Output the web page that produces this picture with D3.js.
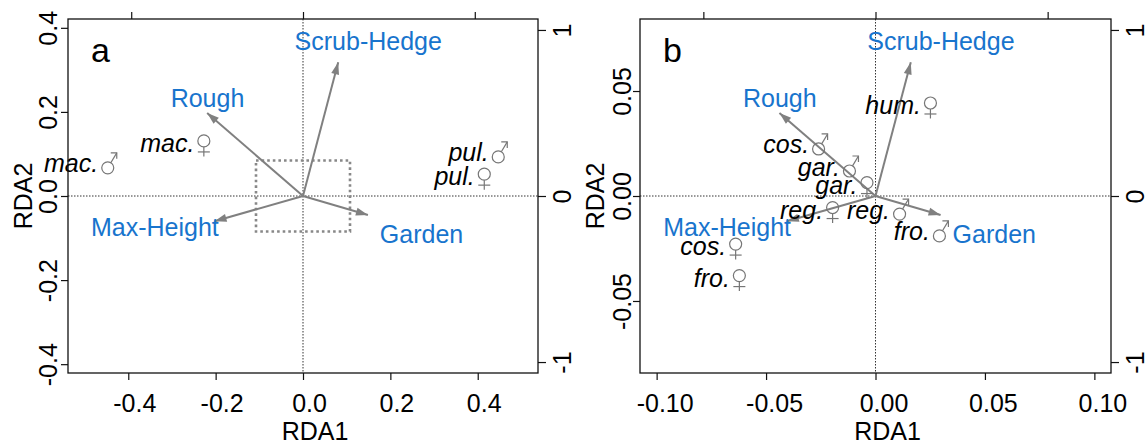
<!DOCTYPE html>
<html>
<head>
<meta charset="utf-8">
<script src="https://cdn.jsdelivr.net/npm/d3@7"></script>
<style>
  body { margin: 0; background: #fff; }
  svg text { font-family: "Liberation Sans", Arial, Helvetica, sans-serif; }
</style>
</head>
<body>
<svg id="chart" width="1146" height="443"></svg>
<script>
// Constraining variables: biplot arrow tips on the secondary (top/right) axes
const envNames = ["Scrub-Hedge", "Rough", "Max-Height", "Garden"];
const envRDA1 = [0.205, -0.558, -0.515, 0.378];
const envRDA2 = [0.805, 0.50, -0.152, -0.114];
// where each variable name sits, same units as the arrows
const envLabelRDA1 = [0.38, -0.556, -0.862, 0.69];
const envLabelRDA2 = [0.88, 0.536, -0.24, -0.283];

// Panel a: species scores
const taxaA = ["mac.", "mac.", "pul.", "pul."];
const sexA = ["m", "f", "m", "f"];
const rda1A = [-0.447, -0.227, 0.447, 0.415];
const rda2A = [0.067, 0.131, 0.093, 0.052];

// Panel b: species scores (enlarged centre of panel a)
const taxaB = ["hum.", "cos.", "gar.", "gar.", "reg.", "reg.", "fro.", "cos.", "fro."];
const sexB = ["f", "m", "m", "f", "f", "m", "m", "f", "f"];
const rda1B = [0.0251, -0.026, -0.0119, -0.0039, -0.0196, 0.011, 0.0292, -0.0639, -0.0622];
const rda2B = [0.0443, 0.0224, 0.0119, 0.0064, -0.0055, -0.0086, -0.019, -0.0229, -0.0379];

// Axis limits and ticks
const limA = [0.538, 0.421];
const limB = [0.1076, 0.0843];
const secLim = [1.368, 1.066];
const xTicksA = [-0.4, -0.2, 0.0, 0.2, 0.4];
const yTicksA = [-0.4, -0.2, 0.0, 0.2, 0.4];
const xTicksB = [-0.10, -0.05, 0.00, 0.05, 0.10];
const yTicksB = [-0.05, 0.00, 0.05];
const secTicks = [-1, 0, 1];

const BLUE = "#1874CD";
const GREY_ARROW = "#808080";
const SYMBOL = "#767676";
const FS = 25;

const svg = d3.select("#chart");
const defs = svg.append("defs");
defs.append("marker")
  .attr("id", "head")
  .attr("markerUnits", "userSpaceOnUse")
  .attr("viewBox", "-13 -5 14 10")
  .attr("refX", 0).attr("refY", 0)
  .attr("markerWidth", 14).attr("markerHeight", 10)
  .attr("orient", "auto")
  .append("path")
  .attr("d", "M0,0 L-12,-4 L-12,4 Z")
  .attr("fill", GREY_ARROW);

const panels = [
  { letter: "a", box: { l: 68, t: 19, r: 538, b: 373 }, lim: limA,
    xTicks: xTicksA, yTicks: yTicksA, digits: 1, xdx: 6, ylab: 11,
    taxa: taxaA, sex: sexA, rda1: rda1A, rda2: rda2A, inset: limB },
  { letter: "b", box: { l: 640, t: 19, r: 1111, b: 373 }, lim: limB,
    xTicks: xTicksB, yTicks: yTicksB, digits: 2, xdx: 8, ylab: 9,
    taxa: taxaB, sex: sexB, rda1: rda1B, rda2: rda2B, inset: null }
];

function drawSex(g, cx, cy, s) {
  const st = (sel) => sel.attr("stroke", SYMBOL).attr("stroke-width", 1.2).attr("fill", "none");
  st(g.append("circle").attr("cx", cx).attr("cy", cy).attr("r", 6));
  if (s === "f") {
    st(g.append("line").attr("x1", cx).attr("y1", cy + 6).attr("x2", cx).attr("y2", cy + 15.5));
    st(g.append("line").attr("x1", cx - 6).attr("y1", cy + 11).attr("x2", cx + 6).attr("y2", cy + 11));
  } else {
    const tx = cx + 9, ty = cy - 15;
    const a = Math.atan2(ty - cy, tx - cx);
    st(g.append("line").attr("x1", cx + 6 * Math.cos(a)).attr("y1", cy + 6 * Math.sin(a))
      .attr("x2", tx).attr("y2", ty));
    st(g.append("path").attr("d", `M${tx - 6},${ty} L${tx},${ty} L${tx},${ty + 6}`));
  }
}

panels.forEach(p => {
  const { l, t, r, b } = p.box;
  const x = d3.scaleLinear().domain([-p.lim[0], p.lim[0]]).range([l, r]);
  const y = d3.scaleLinear().domain([-p.lim[1], p.lim[1]]).range([b, t]);
  const xs = d3.scaleLinear().domain([-secLim[0], secLim[0]]).range([l, r]);
  const ys = d3.scaleLinear().domain([-secLim[1], secLim[1]]).range([b, t]);
  const g = svg.append("g");

  // zero reference lines
  g.append("line").attr("x1", x(0)).attr("x2", x(0)).attr("y1", t).attr("y2", b)
    .attr("stroke", "#333").attr("stroke-width", 1).attr("stroke-dasharray", "1.5,1.5");
  g.append("line").attr("x1", l).attr("x2", r).attr("y1", y(0)).attr("y2", y(0))
    .attr("stroke", "#333").attr("stroke-width", 1).attr("stroke-dasharray", "1.5,1.5");

  // extent of the enlarged panel
  if (p.inset) {
    g.append("rect")
      .attr("x", x(-p.inset[0])).attr("y", y(p.inset[1]))
      .attr("width", x(p.inset[0]) - x(-p.inset[0]))
      .attr("height", y(-p.inset[1]) - y(p.inset[1]))
      .attr("fill", "none").attr("stroke", "#888").attr("stroke-width", 2.6)
      .attr("stroke-dasharray", "2.6,3");
  }

  // biplot arrows
  envNames.forEach((n, i) => {
    g.append("line")
      .attr("x1", xs(0)).attr("y1", ys(0))
      .attr("x2", xs(envRDA1[i])).attr("y2", ys(envRDA2[i]))
      .attr("stroke", GREY_ARROW).attr("stroke-width", 2)
      .attr("marker-end", "url(#head)");
  });

  // species scores with sex symbols
  p.taxa.forEach((name, i) => {
    const cx = x(p.rda1[i]), cy = y(p.rda2[i]);
    drawSex(g, cx, cy, p.sex[i]);
    g.append("text")
      .attr("x", cx - 9.5).attr("y", cy + (p.sex[i] === "f" ? 11 : 4.5))
      .attr("text-anchor", "end").attr("font-style", "italic")
      .attr("font-size", FS).attr("fill", "#000")
      .text(name);
  });

  // variable names
  envNames.forEach((n, i) => {
    g.append("text")
      .attr("x", xs(envLabelRDA1[i])).attr("y", ys(envLabelRDA2[i]))
      .attr("text-anchor", "middle").attr("font-size", FS).attr("fill", BLUE)
      .text(n);
  });

  // frame
  g.append("rect").attr("x", l).attr("y", t).attr("width", r - l).attr("height", b - t)
    .attr("fill", "none").attr("stroke", "#111").attr("stroke-width", 1.3);

  const fmt = d => d.toFixed(p.digits);

  // bottom axis
  const ax = g.append("g").attr("transform", `translate(0,${b})`)
    .call(d3.axisBottom(x).tickValues(p.xTicks).tickFormat(fmt).tickSize(7).tickSizeOuter(0));
  ax.select(".domain").remove();
  ax.selectAll("text").attr("y", 39).attr("dy", 0).attr("dx", p.xdx)
    .attr("font-size", FS).attr("font-family", null).attr("fill", "#000");

  // left axis
  const ay = g.append("g").attr("transform", `translate(${l},0)`)
    .call(d3.axisLeft(y).tickValues(p.yTicks).tickFormat(fmt).tickSize(7).tickSizeOuter(0));
  ay.select(".domain").remove();
  ay.selectAll("text").attr("x", 0).attr("dy", 0).attr("text-anchor", "middle")
    .attr("transform", `translate(${-p.ylab},0) rotate(-90)`)
    .attr("font-size", FS).attr("font-family", null).attr("fill", "#000");

  // top axis (secondary, unlabelled)
  const at = g.append("g").attr("transform", `translate(0,${t})`)
    .call(d3.axisTop(xs).tickValues(secTicks).tickFormat("").tickSize(7).tickSizeOuter(0));
  at.select(".domain").remove();

  // right axis (secondary)
  const ar = g.append("g").attr("transform", `translate(${r},0)`)
    .call(d3.axisRight(ys).tickValues(secTicks).tickFormat(d => String(d)).tickSize(8).tickSizeOuter(0));
  ar.select(".domain").remove();
  ar.selectAll("text").attr("x", 0).attr("dy", 0).attr("text-anchor", "middle")
    .attr("transform", "translate(33,0) rotate(-90)")
    .attr("font-size", FS).attr("font-family", null).attr("fill", "#000");

  g.selectAll(".tick line").attr("stroke", "#111").attr("stroke-width", 1.2);

  // axis titles
  g.append("text").attr("x", (l + r) / 2 + 12).attr("y", 440)
    .attr("text-anchor", "middle").attr("font-size", FS).text("RDA1");
  g.append("text").attr("transform", `translate(${l - 36},${(t + b) / 2}) rotate(-90)`)
    .attr("text-anchor", "middle").attr("font-size", FS).text("RDA2");

  // panel letter
  g.append("text").attr("x", l + 23).attr("y", 62)
    .attr("font-size", 34).text(p.letter);
});
</script>
</body>
</html>
